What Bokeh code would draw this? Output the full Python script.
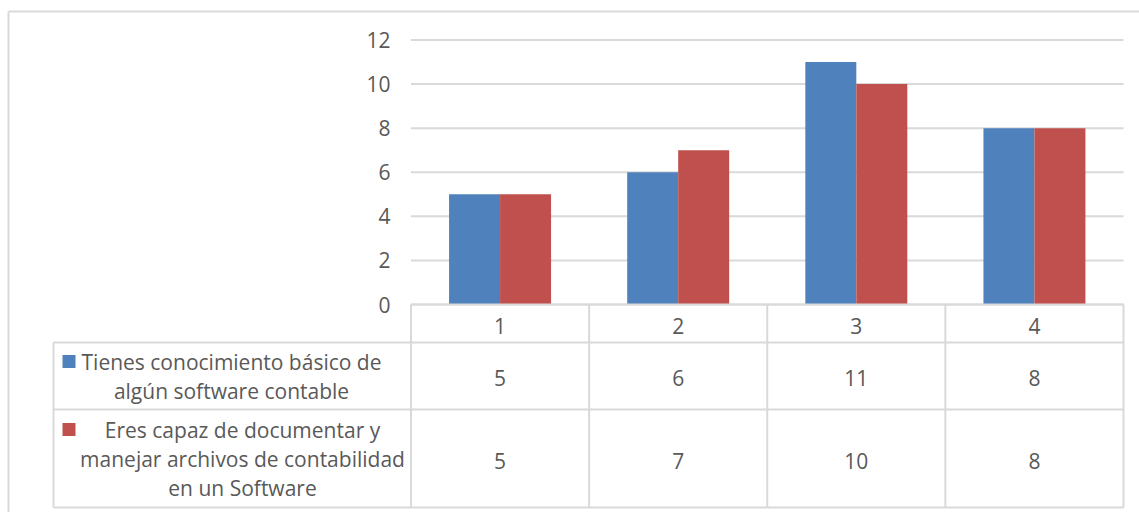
from bokeh.plotting import figure
from bokeh.models import ColumnDataSource, Range1d
from bokeh.transform import dodge
from bokeh.core.properties import value
from bokeh.embed import file_html
from bokeh.resources import INLINE

# ---- data -------------------------------------------------------------
categories = [1, 2, 3, 4]
category_labels = ["1", "2", "3", "4"]
conocimiento = [5, 6, 11, 8]
capaz = [5, 7, 10, 8]
y_ticks = [0, 2, 4, 6, 8, 10, 12]
series_names = [
    ["Tienes conocimiento básico de", "algún software contable"],
    ["Eres capaz de documentar y", "manejar archivos de contabilidad", "en un Software"],
]

# ---- style ------------------------------------------------------------
BLUE = "#4F81BD"
RED = "#C0504D"
GRID = "#D9D9D9"
TEXT = "#595959"
FONT = value("Open Sans")
FONT_SIZE = "21px"

W, H = 1139, 512

# page layout in pixels
PLOT_LEFT, PLOT_RIGHT = 410.5, 1123.0
ZERO_Y, TOP_Y = 304.0, 39.5
CAT_W = (PLOT_RIGHT - PLOT_LEFT) / len(categories)
UNIT = (ZERO_Y - TOP_Y) / 12.0
BAR_W = 51.0 / CAT_W

def px_x(px):
    return 0.5 + (px - PLOT_LEFT) / CAT_W

def px_y(py):
    return (ZERO_Y - py) / UNIT

p = figure(
    width=W, height=H,
    x_range=Range1d(px_x(0), px_x(W)),
    y_range=Range1d(px_y(H), px_y(0)),
    output_backend="svg", toolbar_location=None,
    min_border=0, outline_line_color=None,
    background_fill_color="white", border_fill_color="white",
)
p.axis.visible = False
p.grid.visible = False

# outer chart border (top and left edges are inside the page)
p.segment(x0=[px_x(8), px_x(8)], y0=[px_y(11), px_y(11)],
          x1=[px_x(W), px_x(8)], y1=[px_y(11), px_y(H)],
          line_color=GRID, line_width=2)

# horizontal gridlines
p.segment(x0=[px_x(PLOT_LEFT)] * len(y_ticks), y0=y_ticks,
          x1=[px_x(PLOT_RIGHT)] * len(y_ticks), y1=y_ticks,
          line_color=GRID, line_width=2)

# y tick labels
p.text(x=[px_x(390)] * len(y_ticks), y=y_ticks, text=[str(t) for t in y_ticks],
       text_align="right", text_baseline="middle", text_font=FONT,
       text_font_size=FONT_SIZE, text_color=TEXT)

# bars
src = ColumnDataSource(dict(cat=categories, a=conocimiento, b=capaz,
                            lab=category_labels,
                            sa=[str(v) for v in conocimiento],
                            sb=[str(v) for v in capaz]))
p.vbar(x=dodge("cat", -BAR_W / 2, range=p.x_range), top="a", bottom=0,
       width=BAR_W, source=src, fill_color=BLUE, line_color=None)
p.vbar(x=dodge("cat", BAR_W / 2, range=p.x_range), top="b", bottom=0,
       width=BAR_W, source=src, fill_color=RED, line_color=None)

# data table grid
TABLE_LEFT = 53.0
ROW_LINES = [342.0, 409.0, 507.0]
xs0 = [px_x(PLOT_LEFT)] + [px_x(TABLE_LEFT)] * len(ROW_LINES)
ys = [ZERO_Y] + ROW_LINES
p.segment(x0=xs0, y0=[px_y(v) for v in ys],
          x1=[px_x(PLOT_RIGHT)] * len(ys), y1=[px_y(v) for v in ys],
          line_color=GRID, line_width=2)
col_edges = [PLOT_LEFT + i * CAT_W for i in range(len(categories) + 1)]
p.segment(x0=[px_x(c) for c in col_edges], y0=[px_y(ZERO_Y)] * len(col_edges),
          x1=[px_x(c) for c in col_edges], y1=[px_y(ROW_LINES[-1])] * len(col_edges),
          line_color=GRID, line_width=2)
p.segment(x0=[px_x(TABLE_LEFT)], y0=[px_y(ROW_LINES[0])],
          x1=[px_x(TABLE_LEFT)], y1=[px_y(ROW_LINES[-1])],
          line_color=GRID, line_width=2)

# table cells: category header and the two value rows
for field, py in (("lab", 325.0), ("sa", 377.0), ("sb", 460.0)):
    p.text(x="cat", y=px_y(py), text=field, source=src,
           text_align="center", text_baseline="middle", text_font=FONT,
           text_font_size=FONT_SIZE, text_color=TEXT)

# series keys and names in the first column
KEY = 13.0
for color, key_y, lines, line_ys, cx in (
    (BLUE, 361.0, series_names[0], [361.0, 390.0], 231.0),
    (RED, 429.0, series_names[1], [429.0, 458.0, 487.0], 242.0),
):
    p.rect(x=[px_x(62 + KEY / 2)], y=[px_y(key_y)], width=KEY, height=KEY,
           width_units="screen", height_units="screen",
           fill_color=color, line_color=None)
    p.text(x=[px_x(cx)] * len(lines), y=[px_y(v) for v in line_ys], text=lines,
           text_align="center", text_baseline="middle", text_font=FONT,
           text_font_size=FONT_SIZE, text_color=TEXT)

open("out.html", "w").write(file_html(p, INLINE))
